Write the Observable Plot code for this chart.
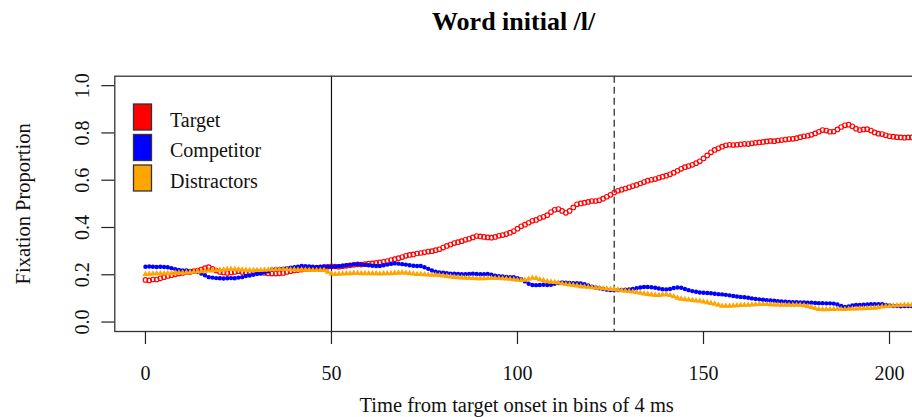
<!DOCTYPE html>
<html>
<head>
<meta charset="utf-8">
<script src="https://cdn.jsdelivr.net/npm/d3@7"></script>
<script src="https://cdn.jsdelivr.net/npm/@observablehq/plot@0.6"></script>
<style>
  html, body { margin: 0; padding: 0; background: white; overflow: hidden; }
  #wrap { position: relative; width: 912px; height: 417px; overflow: hidden; }
  #wrap > svg { position: absolute; left: 0; top: 0; }
</style>
</head>
<body>
<div id="wrap"></div>
<script>
const titleText = "Word initial /l/";
const xLabel = "Time from target onset in bins of 4 ms";
const yLabel = "Fixation Proportion";
const seriesNames = ["Target", "Competitor", "Distractors"];
const seriesColors = ["#FF0000", "#0000FF", "#FFA500"];
const xTicks = [0, 50, 100, 150, 200];
const yTicks = [0, 0.2, 0.4, 0.6, 0.8, 1.0];
const yTickLabels = ["0.0", "0.2", "0.4", "0.6", "0.8", "1.0"];
const refSolid = [50];
const refDashed = [126];

const target = [
0.178,0.176,0.18,0.18,0.185,0.19,0.195,0.198,0.202,0.205,
0.208,0.212,0.212,0.215,0.218,0.222,0.228,0.232,0.225,0.218,
0.212,0.21,0.208,0.21,0.212,0.215,0.212,0.21,0.208,0.21,
0.212,0.21,0.208,0.206,0.205,0.205,0.206,0.208,0.212,0.215,
0.218,0.22,0.222,0.224,0.225,0.226,0.228,0.23,0.232,0.234,
0.236,0.235,0.234,0.236,0.238,0.24,0.242,0.244,0.243,0.245,
0.247,0.248,0.25,0.252,0.255,0.258,0.262,0.266,0.27,0.275,
0.28,0.284,0.286,0.29,0.292,0.295,0.298,0.30,0.304,0.308,
0.315,0.322,0.328,0.334,0.338,0.342,0.348,0.352,0.358,0.364,
0.362,0.36,0.358,0.357,0.36,0.365,0.368,0.372,0.378,0.385,
0.395,0.405,0.412,0.42,0.428,0.432,0.44,0.445,0.452,0.465,
0.475,0.478,0.47,0.462,0.47,0.485,0.498,0.502,0.505,0.508,
0.512,0.512,0.515,0.522,0.53,0.538,0.548,0.555,0.56,0.565,
0.57,0.575,0.58,0.586,0.592,0.598,0.602,0.605,0.61,0.615,
0.619,0.625,0.632,0.64,0.648,0.655,0.66,0.665,0.672,0.68,
0.692,0.705,0.718,0.728,0.735,0.742,0.748,0.75,0.749,0.75,
0.752,0.754,0.753,0.756,0.758,0.76,0.762,0.764,0.766,0.765,
0.768,0.77,0.772,0.774,0.775,0.778,0.782,0.786,0.788,0.792,
0.798,0.805,0.812,0.81,0.805,0.806,0.815,0.825,0.832,0.835,
0.828,0.818,0.812,0.815,0.816,0.81,0.802,0.797,0.795,0.79,
0.786,0.784,0.782,0.781,0.78,0.781,0.781
];
const competitor = [
0.234,0.235,0.234,0.233,0.234,0.233,0.232,0.228,0.224,0.22,
0.218,0.218,0.216,0.213,0.212,0.205,0.198,0.19,0.188,0.186,
0.185,0.184,0.185,0.186,0.185,0.188,0.19,0.195,0.197,0.2,
0.203,0.205,0.21,0.215,0.222,0.224,0.225,0.226,0.228,0.23,
0.232,0.234,0.237,0.236,0.235,0.234,0.233,0.234,0.235,0.234,
0.234,0.235,0.236,0.238,0.24,0.242,0.244,0.245,0.244,0.242,
0.24,0.238,0.237,0.237,0.24,0.243,0.246,0.248,0.247,0.245,
0.243,0.24,0.238,0.237,0.237,0.232,0.225,0.218,0.213,0.21,
0.209,0.207,0.205,0.204,0.203,0.202,0.202,0.203,0.204,0.203,
0.202,0.202,0.203,0.2,0.196,0.194,0.193,0.191,0.19,0.19,
0.186,0.181,0.172,0.162,0.157,0.156,0.157,0.158,0.157,0.158,
0.162,0.165,0.167,0.166,0.165,0.164,0.164,0.163,0.16,0.155,
0.15,0.146,0.143,0.14,0.137,0.135,0.134,0.135,0.136,0.137,
0.138,0.14,0.143,0.146,0.148,0.148,0.147,0.145,0.142,0.139,
0.138,0.14,0.144,0.146,0.145,0.14,0.135,0.131,0.128,0.125,
0.124,0.123,0.122,0.12,0.118,0.117,0.115,0.113,0.11,0.108,
0.106,0.105,0.103,0.1,0.098,0.096,0.094,0.092,0.091,0.09,
0.088,0.087,0.086,0.085,0.084,0.084,0.083,0.083,0.082,0.082,
0.081,0.08,0.08,0.079,0.079,0.078,0.074,0.068,0.064,0.066,
0.07,0.072,0.072,0.073,0.074,0.075,0.075,0.076,0.075,0.072,
0.07,0.068,0.068,0.067,0.068,0.068,0.068
];
const distractors = [
0.202,0.203,0.204,0.205,0.205,0.205,0.206,0.207,0.208,0.209,
0.209,0.21,0.211,0.212,0.213,0.214,0.216,0.217,0.218,0.219,
0.22,0.221,0.223,0.224,0.223,0.222,0.221,0.22,0.219,0.219,
0.219,0.219,0.22,0.221,0.222,0.222,0.223,0.223,0.223,0.222,
0.222,0.221,0.221,0.22,0.22,0.219,0.219,0.219,0.219,0.212,
0.204,0.202,0.203,0.204,0.205,0.206,0.207,0.207,0.206,0.206,
0.205,0.205,0.205,0.204,0.205,0.205,0.206,0.207,0.208,0.209,
0.208,0.206,0.204,0.202,0.202,0.201,0.2,0.199,0.199,0.198,
0.196,0.194,0.192,0.19,0.189,0.188,0.187,0.186,0.185,0.184,
0.184,0.184,0.185,0.185,0.185,0.185,0.184,0.183,0.182,0.18,
0.178,0.177,0.178,0.182,0.186,0.185,0.18,0.176,0.172,0.17,
0.168,0.166,0.163,0.16,0.158,0.156,0.154,0.151,0.149,0.148,
0.146,0.145,0.144,0.142,0.141,0.139,0.138,0.136,0.134,0.132,
0.13,0.128,0.126,0.123,0.12,0.118,0.116,0.114,0.114,0.116,
0.117,0.113,0.108,0.102,0.098,0.096,0.094,0.092,0.09,0.089,
0.086,0.083,0.08,0.077,0.072,0.068,0.068,0.068,0.069,0.07,
0.071,0.072,0.072,0.073,0.074,0.075,0.075,0.075,0.074,0.073,
0.073,0.072,0.072,0.072,0.072,0.072,0.072,0.07,0.067,0.063,
0.058,0.054,0.053,0.053,0.054,0.054,0.055,0.054,0.054,0.055,
0.056,0.056,0.057,0.057,0.058,0.059,0.06,0.062,0.065,0.067,
0.068,0.069,0.07,0.071,0.072,0.072,0.072
];

const toRows = arr => arr.map((v, i) => ({t: i, v}));
const tRows = toRows(target), cRows = toRows(competitor), dRows = toRows(distractors);
const nBins = target.length - 1;
const pad = nBins * 0.04;

const serif = "'Liberation Serif', 'Times New Roman', Times, serif";

const plot = Plot.plot({
  width: 912,
  height: 417,
  marginLeft: 114.3,
  marginRight: -30,
  marginTop: 75.7,
  marginBottom: 86,
  style: {fontFamily: serif, background: "white", color: "#111"},
  x: {domain: [-pad, nBins + pad]},
  y: {domain: [-0.04, 1.04]},
  marks: [
    Plot.ruleX(refSolid, {stroke: "#111", strokeWidth: 1.2}),
    Plot.ruleX(refDashed, {stroke: "#333", strokeWidth: 1.3, strokeDasharray: "7,4"}),
    Plot.dot(tRows, {x: "t", y: "v", r: 2.3, stroke: seriesColors[0], fill: "none", strokeWidth: 1.1}),
    Plot.dot(cRows, {x: "t", y: "v", r: 2.2, fill: seriesColors[1], stroke: "none"}),
    Plot.dot(dRows, {x: "t", y: "v", r: 2.3, symbol: "triangle", fill: seriesColors[2], stroke: "none"}),
    Plot.frame({stroke: "#333", strokeWidth: 1.3}),
    Plot.axisX({ticks: xTicks, tickSize: 13, tickPadding: 21, tickFormat: d => String(d),
      fontSize: 20, fontFamily: serif, stroke: "#222", strokeWidth: 1.2, fill: "#111", label: null}),
    Plot.axisY({ticks: yTicks, tickSize: 13, tickFormat: () => "", stroke: "#222", strokeWidth: 1.2, label: null}),
    Plot.text(yTicks, {y: d => d, text: (d, i) => yTickLabels[i], frameAnchor: "left", rotate: -90,
      lineAnchor: "bottom", textAnchor: "middle", dx: -26, fontSize: 20, fill: "#111"}),
    Plot.text([yLabel], {frameAnchor: "left", rotate: -90, lineAnchor: "bottom", textAnchor: "middle",
      dx: -85, fontSize: 20.5, fill: "#111"}),
    Plot.text([xLabel], {frameAnchor: "bottom", lineAnchor: "bottom", textAnchor: "middle",
      dx: -12, dy: 80.7, fontSize: 20.5, fill: "#111"}),
    Plot.text([titleText], {frameAnchor: "top", lineAnchor: "bottom", textAnchor: "middle",
      dx: -15, dy: -45.7, fontSize: 26, fontWeight: "bold", fill: "#000"})
  ]
});
document.getElementById("wrap").appendChild(plot);

// Legend overlay (inside plot region, top-left)
const leg = d3.select("#wrap").append("svg")
  .attr("width", 200).attr("height", 110)
  .style("left", "125px").style("top", "95px");
const items = leg.selectAll("g").data(seriesNames).join("g")
  .attr("transform", (d, i) => `translate(0, ${i * 30.5})`);
items.append("rect").attr("x", 8.5).attr("y", 9).attr("width", 18).attr("height", 26)
  .attr("fill", (d, i) => seriesColors[i]).attr("stroke", "#333").attr("stroke-width", 1.3);
items.append("text").attr("x", 45).attr("y", 31.7).text(d => d)
  .attr("font-family", serif).attr("font-size", 20).attr("fill", "#111");
</script>
</body>
</html>
